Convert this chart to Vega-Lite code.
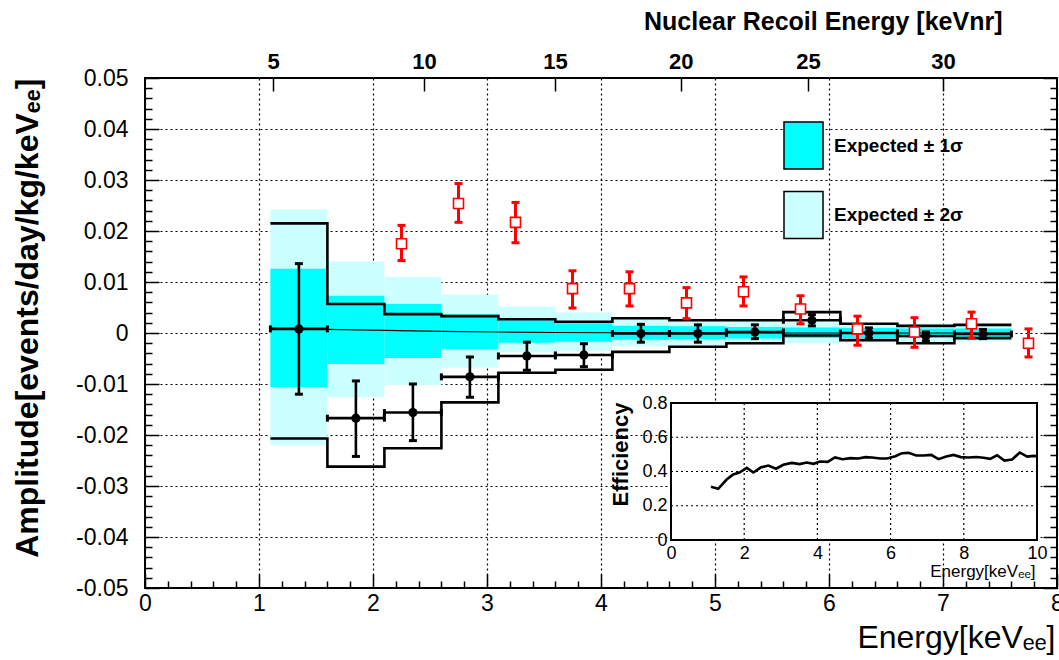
{
  "$schema": "https://vega.github.io/schema/vega-lite/v6.json",
  "width": 912,
  "height": 510,
  "autosize": {"type": "none"},
  "padding": {"left": 145, "top": 78, "right": 2, "bottom": 72},
  "background": "white",
  "config": {
    "font": "Liberation Sans",
    "view": {"stroke": "black", "strokeWidth": 2},
    "axis": {"labelColor": "black", "titleColor": "black", "tickColor": "black"}
  },
  "datasets": {
    "bands": [
      {"x1": 1.1, "x2": 1.6, "lo": -0.0220, "hi": 0.0242, "band": "Expected ± 2σ"},
      {"x1": 1.6, "x2": 2.1, "lo": -0.0126, "hi": 0.0140, "band": "Expected ± 2σ"},
      {"x1": 2.1, "x2": 2.6, "lo": -0.0102, "hi": 0.0110, "band": "Expected ± 2σ"},
      {"x1": 2.6, "x2": 3.1, "lo": -0.0068, "hi": 0.0075, "band": "Expected ± 2σ"},
      {"x1": 3.1, "x2": 3.6, "lo": -0.0038, "hi": 0.0052, "band": "Expected ± 2σ"},
      {"x1": 3.6, "x2": 4.1, "lo": -0.0035, "hi": 0.0040, "band": "Expected ± 2σ"},
      {"x1": 4.1, "x2": 4.6, "lo": -0.0026, "hi": 0.0028, "band": "Expected ± 2σ"},
      {"x1": 4.6, "x2": 5.1, "lo": -0.0024, "hi": 0.0025, "band": "Expected ± 2σ"},
      {"x1": 5.1, "x2": 5.6, "lo": -0.0022, "hi": 0.0023, "band": "Expected ± 2σ"},
      {"x1": 5.6, "x2": 6.1, "lo": -0.0020, "hi": 0.0021, "band": "Expected ± 2σ"},
      {"x1": 6.1, "x2": 6.6, "lo": -0.0018, "hi": 0.0019, "band": "Expected ± 2σ"},
      {"x1": 6.6, "x2": 7.1, "lo": -0.0017, "hi": 0.0018, "band": "Expected ± 2σ"},
      {"x1": 7.1, "x2": 7.6, "lo": -0.0016, "hi": 0.0017, "band": "Expected ± 2σ"},
      {"x1": 1.1, "x2": 1.6, "lo": -0.0106, "hi": 0.0126, "band": "Expected ± 1σ"},
      {"x1": 1.6, "x2": 2.1, "lo": -0.0061, "hi": 0.0073, "band": "Expected ± 1σ"},
      {"x1": 2.1, "x2": 2.6, "lo": -0.0049, "hi": 0.0057, "band": "Expected ± 1σ"},
      {"x1": 2.6, "x2": 3.1, "lo": -0.0032, "hi": 0.0037, "band": "Expected ± 1σ"},
      {"x1": 3.1, "x2": 3.6, "lo": -0.0019, "hi": 0.0025, "band": "Expected ± 1σ"},
      {"x1": 3.6, "x2": 4.1, "lo": -0.0017, "hi": 0.0019, "band": "Expected ± 1σ"},
      {"x1": 4.1, "x2": 4.6, "lo": -0.0013, "hi": 0.0014, "band": "Expected ± 1σ"},
      {"x1": 4.6, "x2": 5.1, "lo": -0.0012, "hi": 0.0013, "band": "Expected ± 1σ"},
      {"x1": 5.1, "x2": 5.6, "lo": -0.0011, "hi": 0.0012, "band": "Expected ± 1σ"},
      {"x1": 5.6, "x2": 6.1, "lo": -0.0010, "hi": 0.0011, "band": "Expected ± 1σ"},
      {"x1": 6.1, "x2": 6.6, "lo": -0.0010, "hi": 0.0010, "band": "Expected ± 1σ"},
      {"x1": 6.6, "x2": 7.1, "lo": -0.0009, "hi": 0.0009, "band": "Expected ± 1σ"},
      {"x1": 7.1, "x2": 7.6, "lo": -0.0008, "hi": 0.0009, "band": "Expected ± 1σ"}
    ],
    "steps": [
      {"e": 1.1, "up": 0.0215, "lo": -0.0207},
      {"e": 1.6, "up": 0.0057, "lo": -0.0262},
      {"e": 2.1, "up": 0.0037, "lo": -0.0226},
      {"e": 2.6, "up": 0.0033, "lo": -0.0136},
      {"e": 3.1, "up": 0.0027, "lo": -0.0078},
      {"e": 3.6, "up": 0.0022, "lo": -0.0072},
      {"e": 4.1, "up": 0.0029, "lo": -0.0037},
      {"e": 4.6, "up": 0.0025, "lo": -0.0027},
      {"e": 5.1, "up": 0.0025, "lo": -0.0020},
      {"e": 5.6, "up": 0.0041, "lo": -0.0005},
      {"e": 6.1, "up": 0.0018, "lo": -0.0014},
      {"e": 6.6, "up": 0.0014, "lo": -0.0020},
      {"e": 7.1, "up": 0.0016, "lo": -0.0010},
      {"e": 7.6, "up": 0.0016, "lo": -0.0010}
    ],
    "center": [
      {"e": 1.1, "v": 0.0009},
      {"e": 1.6, "v": 0.0007},
      {"e": 2.1, "v": 0.0005},
      {"e": 2.6, "v": 0.0003},
      {"e": 3.1, "v": 0.0002},
      {"e": 3.6, "v": 0.0001},
      {"e": 4.6, "v": 0.0},
      {"e": 7.6, "v": 0.0}
    ],
    "meas": [
      {"c": 1.35, "l": 1.1, "r": 1.6, "v": 0.0008, "lo": -0.0120, "hi": 0.0136},
      {"c": 1.85, "l": 1.6, "r": 2.1, "v": -0.0167, "lo": -0.0242, "hi": -0.0094},
      {"c": 2.35, "l": 2.1, "r": 2.6, "v": -0.0156, "lo": -0.0211, "hi": -0.0100},
      {"c": 2.85, "l": 2.6, "r": 3.1, "v": -0.0086, "lo": -0.0126, "hi": -0.0047},
      {"c": 3.35, "l": 3.1, "r": 3.6, "v": -0.0045, "lo": -0.0073, "hi": -0.0018},
      {"c": 3.85, "l": 3.6, "r": 4.1, "v": -0.0043, "lo": -0.0066, "hi": -0.0021},
      {"c": 4.35, "l": 4.1, "r": 4.6, "v": -0.0001, "lo": -0.0018, "hi": 0.0017},
      {"c": 4.85, "l": 4.6, "r": 5.1, "v": -0.0001, "lo": -0.0018, "hi": 0.0016},
      {"c": 5.35, "l": 5.1, "r": 5.6, "v": 0.0002, "lo": -0.0011, "hi": 0.0016},
      {"c": 5.85, "l": 5.6, "r": 6.1, "v": 0.0025, "lo": 0.0014, "hi": 0.0036},
      {"c": 6.35, "l": 6.1, "r": 6.6, "v": 0.0000, "lo": -0.0010, "hi": 0.0010},
      {"c": 6.85, "l": 6.6, "r": 7.1, "v": -0.0006, "lo": -0.0016, "hi": 0.0002},
      {"c": 7.35, "l": 7.1, "r": 7.6, "v": -0.0002, "lo": -0.0011, "hi": 0.0007}
    ],
    "other": [
      {"c": 2.25, "v": 0.0175, "lo": 0.0142, "hi": 0.0211},
      {"c": 2.75, "v": 0.0254, "lo": 0.0217, "hi": 0.0293},
      {"c": 3.25, "v": 0.0217, "lo": 0.0177, "hi": 0.0256},
      {"c": 3.75, "v": 0.0087, "lo": 0.0049, "hi": 0.0122},
      {"c": 4.25, "v": 0.0087, "lo": 0.0053, "hi": 0.0120},
      {"c": 4.75, "v": 0.0059, "lo": 0.0028, "hi": 0.0089},
      {"c": 5.25, "v": 0.0081, "lo": 0.0053, "hi": 0.0110},
      {"c": 5.75, "v": 0.0047, "lo": 0.0018, "hi": 0.0073},
      {"c": 6.25, "v": 0.0008, "lo": -0.0024, "hi": 0.0033},
      {"c": 6.75, "v": 0.0002, "lo": -0.0028, "hi": 0.0030},
      {"c": 7.25, "v": 0.0018, "lo": -0.0010, "hi": 0.0041},
      {"c": 7.75, "v": -0.0020, "lo": -0.0047, "hi": 0.0008}
    ],
    "eff": [
      {"e": 1.09, "eff": 0.311}, {"e": 1.29, "eff": 0.299}, {"e": 1.52, "eff": 0.353},
      {"e": 1.70, "eff": 0.383}, {"e": 1.87, "eff": 0.394}, {"e": 2.07, "eff": 0.421},
      {"e": 2.25, "eff": 0.394}, {"e": 2.45, "eff": 0.423}, {"e": 2.66, "eff": 0.435},
      {"e": 2.87, "eff": 0.416}, {"e": 3.07, "eff": 0.439}, {"e": 3.30, "eff": 0.450},
      {"e": 3.51, "eff": 0.443}, {"e": 3.71, "eff": 0.452}, {"e": 3.89, "eff": 0.445},
      {"e": 4.07, "eff": 0.458}, {"e": 4.28, "eff": 0.456}, {"e": 4.48, "eff": 0.482},
      {"e": 4.69, "eff": 0.472}, {"e": 4.90, "eff": 0.478}, {"e": 5.12, "eff": 0.476},
      {"e": 5.31, "eff": 0.484}, {"e": 5.49, "eff": 0.482}, {"e": 5.72, "eff": 0.476},
      {"e": 5.90, "eff": 0.476}, {"e": 6.13, "eff": 0.489}, {"e": 6.31, "eff": 0.507},
      {"e": 6.49, "eff": 0.509}, {"e": 6.70, "eff": 0.493}, {"e": 6.90, "eff": 0.493},
      {"e": 7.11, "eff": 0.497}, {"e": 7.31, "eff": 0.472}, {"e": 7.52, "eff": 0.487},
      {"e": 7.72, "eff": 0.497}, {"e": 7.92, "eff": 0.484}, {"e": 8.13, "eff": 0.482},
      {"e": 8.34, "eff": 0.485}, {"e": 8.54, "eff": 0.480}, {"e": 8.72, "eff": 0.474},
      {"e": 8.91, "eff": 0.495}, {"e": 9.11, "eff": 0.464}, {"e": 9.32, "eff": 0.470},
      {"e": 9.53, "eff": 0.511}, {"e": 9.73, "eff": 0.487}, {"e": 9.91, "eff": 0.491},
      {"e": 10.0, "eff": 0.489}
    ],
    "insetFrame": [{"x1": 0, "x2": 10, "y1": 0, "y2": 0.8}],
    "insetGridX": [{"g": 2}, {"g": 4}, {"g": 6}, {"g": 8}],
    "insetGridY": [{"g": 0.2}, {"g": 0.4}, {"g": 0.6}],
    "dummy": [{"e": 4, "v": 0}]
  },
  "resolve": {
    "scale": {"x": "independent", "y": "independent"},
    "axis": {"x": "independent", "y": "independent"}
  },
  "layer": [
    {
      "resolve": {"axis": {"x": "independent", "y": "independent"}},
      "layer": [
        {
          "data": {"name": "bands"},
          "mark": {"type": "rect"},
          "encoding": {
            "x": {
              "field": "x1", "type": "quantitative",
              "scale": {"domain": [0, 8], "nice": false, "zero": false},
              "axis": {
                "orient": "bottom", "values": [0, 1, 2, 3, 4, 5, 6, 7, 8], "format": "d",
                "grid": true, "gridColor": "black", "gridDash": [2, 3], "gridWidth": 1.2, "gridOpacity": 1,
                "domain": false, "ticks": true, "tickSize": -14, "tickWidth": 1.5,
                "labelFontSize": 23, "labelPadding": 18, "labelBaseline": "top",
                "labelFlush": false, "labelOverlap": false, "labelBound": false,
                "title": "Energy[keVₑₑ]", "titleFontSize": 32, "titleFontWeight": "normal",
                "titleAlign": "right", "titleBaseline": "alphabetic", "titleX": 910, "titleY": 59, "titleAngle": 0
              }
            },
            "x2": {"field": "x2"},
            "y": {
              "field": "lo", "type": "quantitative",
              "scale": {"domain": [-0.05, 0.05], "nice": false, "zero": false},
              "axis": {
                "orient": "left",
                "values": [-0.05, -0.04, -0.03, -0.02, -0.01, 0, 0.01, 0.02, 0.03, 0.04, 0.05],
                "labelExpr": "datum.value == 0 ? '0' : (datum.value < 0 ? '-' : '') + format(abs(datum.value), '.2f')",
                "grid": true, "gridColor": "black", "gridDash": [2, 3], "gridWidth": 1.2, "gridOpacity": 1,
                "domain": false, "ticks": true, "tickSize": -14, "tickWidth": 1.5,
                "labelFontSize": 23, "labelPadding": 31, "labelAlign": "right", "labelBaseline": "middle",
                "labelFlush": false, "labelOverlap": false, "labelBound": false,
                "title": "Amplitude[events/day/kg/keVₑₑ]", "titleFontSize": 32, "titleFontWeight": "bold",
                "titleAngle": -90, "titleAlign": "right", "titleBaseline": "alphabetic", "titleX": -108, "titleY": 0
              }
            },
            "y2": {"field": "hi"},
            "color": {
              "field": "band", "type": "nominal",
              "scale": {"domain": ["Expected ± 1σ", "Expected ± 2σ"], "range": ["#00FFFF", "#CCFFFF"]},
              "legend": {
                "orient": "none", "legendX": 634, "legendY": 43, "title": null, "padding": 0,
                "symbolType": "M-0.83,-1H0.83V1H-0.83Z", "symbolSize": 2209,
                "symbolStrokeColor": "black", "symbolStrokeWidth": 1.5, "symbolOpacity": 1,
                "labelFontSize": 19, "labelFontWeight": "bold", "labelColor": "black",
                "labelOffset": 6, "rowPadding": 16.5, "labelLimit": 300
              }
            }
          }
        },
        {
          "data": {"name": "center"},
          "mark": {"type": "line", "color": "black", "strokeWidth": 1.2},
          "encoding": {
            "x": {"field": "e", "type": "quantitative", "scale": {"domain": [0, 8], "nice": false, "zero": false}, "axis": null},
            "y": {"field": "v", "type": "quantitative", "scale": {"domain": [-0.05, 0.05], "nice": false, "zero": false}, "axis": null}
          }
        },
        {
          "data": {"name": "steps"},
          "mark": {"type": "line", "interpolate": "step-after", "color": "black", "strokeWidth": 2.6},
          "encoding": {
            "x": {"field": "e", "type": "quantitative", "scale": {"domain": [0, 8], "nice": false, "zero": false}, "axis": null},
            "y": {"field": "up", "type": "quantitative", "scale": {"domain": [-0.05, 0.05], "nice": false, "zero": false}, "axis": null}
          }
        },
        {
          "data": {"name": "steps"},
          "mark": {"type": "line", "interpolate": "step-after", "color": "black", "strokeWidth": 2.6},
          "encoding": {
            "x": {"field": "e", "type": "quantitative", "scale": {"domain": [0, 8], "nice": false, "zero": false}, "axis": null},
            "y": {"field": "lo", "type": "quantitative", "scale": {"domain": [-0.05, 0.05], "nice": false, "zero": false}, "axis": null}
          }
        },
        {
          "data": {"name": "meas"},
          "mark": {"type": "rule", "color": "black", "strokeWidth": 2.6},
          "encoding": {
            "x": {"field": "l", "type": "quantitative", "scale": {"domain": [0, 8], "nice": false, "zero": false}, "axis": null},
            "x2": {"field": "r"},
            "y": {"field": "v", "type": "quantitative", "scale": {"domain": [-0.05, 0.05], "nice": false, "zero": false}, "axis": null}
          }
        },
        {
          "data": {"name": "meas"},
          "mark": {"type": "rule", "color": "black", "strokeWidth": 2.6},
          "encoding": {
            "x": {"field": "c", "type": "quantitative", "scale": {"domain": [0, 8], "nice": false, "zero": false}, "axis": null},
            "y": {"field": "lo", "type": "quantitative", "scale": {"domain": [-0.05, 0.05], "nice": false, "zero": false}, "axis": null},
            "y2": {"field": "hi"}
          }
        },
        {
          "data": {"name": "meas"},
          "mark": {"type": "tick", "orient": "horizontal", "color": "black", "size": 8, "thickness": 3, "opacity": 1},
          "encoding": {
            "x": {"field": "c", "type": "quantitative", "scale": {"domain": [0, 8], "nice": false, "zero": false}, "axis": null},
            "y": {"field": "hi", "type": "quantitative", "scale": {"domain": [-0.05, 0.05], "nice": false, "zero": false}, "axis": null}
          }
        },
        {
          "data": {"name": "meas"},
          "mark": {"type": "tick", "orient": "horizontal", "color": "black", "size": 8, "thickness": 3, "opacity": 1},
          "encoding": {
            "x": {"field": "c", "type": "quantitative", "scale": {"domain": [0, 8], "nice": false, "zero": false}, "axis": null},
            "y": {"field": "lo", "type": "quantitative", "scale": {"domain": [-0.05, 0.05], "nice": false, "zero": false}, "axis": null}
          }
        },
        {
          "data": {"name": "meas"},
          "mark": {"type": "tick", "orient": "vertical", "color": "black", "size": 7, "thickness": 3, "opacity": 1},
          "encoding": {
            "x": {"field": "l", "type": "quantitative", "scale": {"domain": [0, 8], "nice": false, "zero": false}, "axis": null},
            "y": {"field": "v", "type": "quantitative", "scale": {"domain": [-0.05, 0.05], "nice": false, "zero": false}, "axis": null}
          }
        },
        {
          "data": {"name": "meas"},
          "mark": {"type": "tick", "orient": "vertical", "color": "black", "size": 7, "thickness": 3, "opacity": 1},
          "encoding": {
            "x": {"field": "r", "type": "quantitative", "scale": {"domain": [0, 8], "nice": false, "zero": false}, "axis": null},
            "y": {"field": "v", "type": "quantitative", "scale": {"domain": [-0.05, 0.05], "nice": false, "zero": false}, "axis": null}
          }
        },
        {
          "data": {"name": "meas"},
          "mark": {"type": "circle", "color": "black", "size": 85, "opacity": 1},
          "encoding": {
            "x": {"field": "c", "type": "quantitative", "scale": {"domain": [0, 8], "nice": false, "zero": false}, "axis": null},
            "y": {"field": "v", "type": "quantitative", "scale": {"domain": [-0.05, 0.05], "nice": false, "zero": false}, "axis": null}
          }
        },
        {
          "data": {"name": "other"},
          "mark": {"type": "rule", "color": "#FF0000", "strokeWidth": 3},
          "encoding": {
            "x": {"field": "c", "type": "quantitative", "scale": {"domain": [0, 8], "nice": false, "zero": false}, "axis": null},
            "y": {"field": "lo", "type": "quantitative", "scale": {"domain": [-0.05, 0.05], "nice": false, "zero": false}, "axis": null},
            "y2": {"field": "hi"}
          }
        },
        {
          "data": {"name": "other"},
          "mark": {"type": "tick", "orient": "horizontal", "color": "#FF0000", "size": 8, "thickness": 3, "opacity": 1},
          "encoding": {
            "x": {"field": "c", "type": "quantitative", "scale": {"domain": [0, 8], "nice": false, "zero": false}, "axis": null},
            "y": {"field": "hi", "type": "quantitative", "scale": {"domain": [-0.05, 0.05], "nice": false, "zero": false}, "axis": null}
          }
        },
        {
          "data": {"name": "other"},
          "mark": {"type": "tick", "orient": "horizontal", "color": "#FF0000", "size": 8, "thickness": 3, "opacity": 1},
          "encoding": {
            "x": {"field": "c", "type": "quantitative", "scale": {"domain": [0, 8], "nice": false, "zero": false}, "axis": null},
            "y": {"field": "lo", "type": "quantitative", "scale": {"domain": [-0.05, 0.05], "nice": false, "zero": false}, "axis": null}
          }
        },
        {
          "data": {"name": "other"},
          "mark": {"type": "square", "filled": true, "fill": "white", "stroke": "#FF0000", "strokeWidth": 1.6, "size": 100, "opacity": 1},
          "encoding": {
            "x": {"field": "c", "type": "quantitative", "scale": {"domain": [0, 8], "nice": false, "zero": false}, "axis": null},
            "y": {"field": "v", "type": "quantitative", "scale": {"domain": [-0.05, 0.05], "nice": false, "zero": false}, "axis": null}
          }
        },
        {
          "data": {"name": "dummy"},
          "mark": {"type": "point", "opacity": 0},
          "encoding": {
            "x": {
              "field": "e", "type": "quantitative",
              "scale": {"domain": [0, 8], "nice": false, "zero": false},
              "axis": {
                "orient": "top", "values": [1.123, 2.447, 3.596, 4.70, 5.816, 7.0],
                "labelExpr": "datum.value < 2 ? '5' : datum.value < 3 ? '10' : datum.value < 4 ? '15' : datum.value < 5 ? '20' : datum.value < 6.5 ? '25' : '30'",
                "grid": false, "domain": false, "ticks": true, "tickSize": -13, "tickWidth": 1.5,
                "labelFontSize": 22, "labelFontWeight": "bold", "labelPadding": 23, "labelBaseline": "alphabetic",
                "labelFlush": false, "labelOverlap": false, "labelBound": false,
                "title": "Nuclear Recoil Energy [keVnr]", "titleFontSize": 25, "titleFontWeight": "bold",
                "titleAlign": "right", "titleBaseline": "alphabetic", "titleX": 857, "titleY": -49
              }
            },
            "y": {
              "field": "v", "type": "quantitative",
              "scale": {"domain": [-0.05, 0.05], "nice": false, "zero": false},
              "axis": {
                "orient": "right",
                "values": [-0.05, -0.04, -0.03, -0.02, -0.01, 0, 0.01, 0.02, 0.03, 0.04, 0.05],
                "grid": false, "domain": false, "labels": false, "ticks": true, "tickSize": -14, "tickWidth": 1.5, "title": null
              }
            }
          }
        },
        {
          "data": {"name": "dummy"},
          "mark": {"type": "point", "opacity": 0},
          "encoding": {
            "x": {
              "field": "e", "type": "quantitative",
              "scale": {"domain": [0, 8], "nice": false, "zero": false},
              "axis": {
                "orient": "bottom",
                "values": [0.2, 0.4, 0.6, 0.8, 1.2, 1.4, 1.6, 1.8, 2.2, 2.4, 2.6, 2.8, 3.2, 3.4, 3.6, 3.8, 4.2, 4.4, 4.6, 4.8, 5.2, 5.4, 5.6, 5.8, 6.2, 6.4, 6.6, 6.8, 7.2, 7.4, 7.6, 7.8],
                "grid": false, "domain": false, "labels": false, "ticks": true, "tickSize": -7, "tickWidth": 1.5, "title": null
              }
            },
            "y": {
              "field": "v", "type": "quantitative",
              "scale": {"domain": [-0.05, 0.05], "nice": false, "zero": false},
              "axis": {
                "orient": "left",
                "values": [-0.048, -0.046, -0.044, -0.042, -0.038, -0.036, -0.034, -0.032, -0.028, -0.026, -0.024, -0.022, -0.018, -0.016, -0.014, -0.012, -0.008, -0.006, -0.004, -0.002, 0.002, 0.004, 0.006, 0.008, 0.012, 0.014, 0.016, 0.018, 0.022, 0.024, 0.026, 0.028, 0.032, 0.034, 0.036, 0.038, 0.042, 0.044, 0.046, 0.048],
                "grid": false, "domain": false, "labels": false, "ticks": true, "tickSize": -7, "tickWidth": 1.5, "title": null
              }
            }
          }
        },
        {
          "data": {"name": "dummy"},
          "mark": {"type": "point", "opacity": 0},
          "encoding": {
            "y": {
              "field": "v", "type": "quantitative",
              "scale": {"domain": [-0.05, 0.05], "nice": false, "zero": false},
              "axis": {
                "orient": "right",
                "values": [-0.048, -0.046, -0.044, -0.042, -0.038, -0.036, -0.034, -0.032, -0.028, -0.026, -0.024, -0.022, -0.018, -0.016, -0.014, -0.012, -0.008, -0.006, -0.004, -0.002, 0.002, 0.004, 0.006, 0.008, 0.012, 0.014, 0.016, 0.018, 0.022, 0.024, 0.026, 0.028, 0.032, 0.034, 0.036, 0.038, 0.042, 0.044, 0.046, 0.048],
                "grid": false, "domain": false, "labels": false, "ticks": true, "tickSize": -7, "tickWidth": 1.5, "title": null
              }
            }
          }
        }
      ]
    },
    {
      "data": {"name": "insetFrame"},
      "mark": {"type": "rect", "fill": "white", "stroke": "black", "strokeWidth": 2},
      "encoding": {
        "x": {"field": "x1", "type": "quantitative", "scale": {"domain": [0, 10], "range": [526, 892], "nice": false, "zero": false}, "axis": null},
        "x2": {"field": "x2"},
        "y": {"field": "y1", "type": "quantitative", "scale": {"domain": [0, 0.8], "range": [462, 325], "nice": false, "zero": false}, "axis": null},
        "y2": {"field": "y2"}
      }
    },
    {
      "data": {"name": "insetGridX"},
      "mark": {"type": "rule", "color": "black", "strokeWidth": 1.2, "strokeDash": [2, 3]},
      "encoding": {
        "x": {"field": "g", "type": "quantitative", "scale": {"domain": [0, 10], "range": [526, 892], "nice": false, "zero": false}, "axis": null},
        "y": {"datum": 0, "type": "quantitative", "scale": {"domain": [0, 0.8], "range": [462, 325], "nice": false, "zero": false}, "axis": null},
        "y2": {"datum": 0.8}
      }
    },
    {
      "data": {"name": "insetGridY"},
      "mark": {"type": "rule", "color": "black", "strokeWidth": 1.2, "strokeDash": [2, 3]},
      "encoding": {
        "y": {"field": "g", "type": "quantitative", "scale": {"domain": [0, 0.8], "range": [462, 325], "nice": false, "zero": false}, "axis": null},
        "x": {"datum": 0, "type": "quantitative", "scale": {"domain": [0, 10], "range": [526, 892], "nice": false, "zero": false}, "axis": null},
        "x2": {"datum": 10}
      }
    },
    {
      "data": {"name": "eff"},
      "mark": {"type": "line", "color": "black", "strokeWidth": 2.6},
      "encoding": {
        "x": {
          "field": "e", "type": "quantitative",
          "scale": {"domain": [0, 10], "range": [526, 892], "nice": false, "zero": false},
          "axis": {
            "orient": "bottom", "offset": -48, "values": [0, 2, 4, 6, 8, 10], "format": "d",
            "grid": false, "domain": false, "ticks": false,
            "labelFontSize": 18, "labelPadding": 4, "labelBaseline": "top",
            "labelFlush": false, "labelOverlap": false, "labelBound": false,
            "title": "Energy[keVₑₑ]", "titleFontSize": 17, "titleFontWeight": "normal",
            "titleAlign": "right", "titleBaseline": "alphabetic", "titleX": 890, "titleY": 36, "titleAngle": 0
          }
        },
        "y": {
          "field": "eff", "type": "quantitative",
          "scale": {"domain": [0, 0.8], "range": [462, 325], "nice": false, "zero": false},
          "axis": {
            "orient": "left", "offset": -526, "values": [0, 0.2, 0.4, 0.6, 0.8],
            "labelExpr": "datum.value == 0 ? '0' : format(datum.value, '.1f')",
            "grid": false, "domain": false, "ticks": false,
            "labelFontSize": 18, "labelPadding": 4, "labelAlign": "right", "labelBaseline": "middle",
            "labelFlush": false, "labelOverlap": false, "labelBound": false,
            "title": "Efficiency", "titleFontSize": 22, "titleFontWeight": "bold",
            "titleAngle": -90, "titleAlign": "right", "titleBaseline": "alphabetic", "titleX": -44, "titleY": 324
          }
        }
      }
    }
  ]
}
